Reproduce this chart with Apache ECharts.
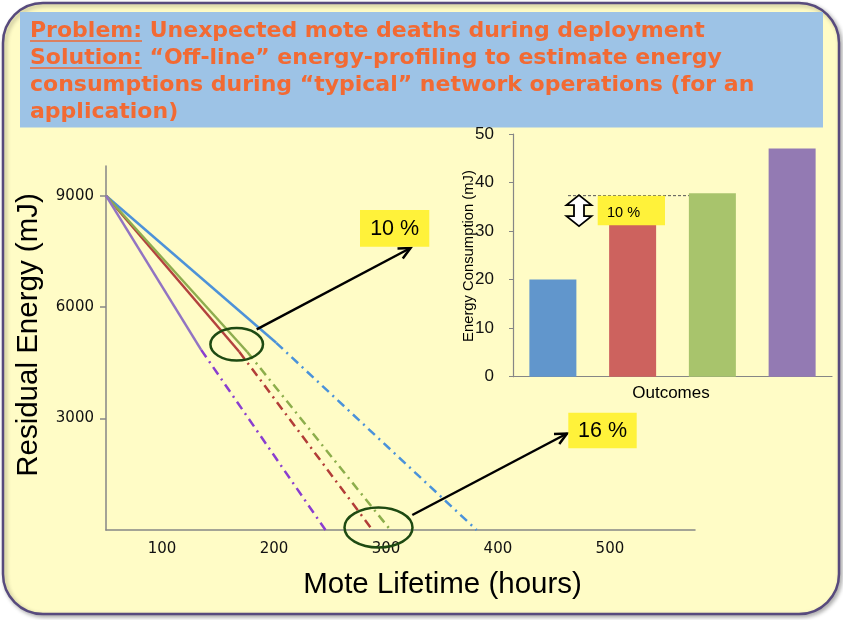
<!DOCTYPE html>
<html><head><meta charset="utf-8">
<script src="https://cdn.jsdelivr.net/npm/echarts@6/dist/echarts.min.js"></script>
<style>html,body{margin:0;padding:0;background:#fff}#c{width:843px;height:620px}</style>
</head><body><div id="c"></div>
<script>
// ---- data ----
const profiles = ['Profile A', 'Profile B', 'Profile C', 'Profile D'];
const startHours = 50;
const startEnergy = 9000;
const breakHours = [202, 169, 176, 135];
const breakEnergy = [5040, 4800, 4800, 4850];
const deathHours = [381, 288, 304, 246];
const lifetimeTicks = [100, 200, 300, 400, 500];
const energyTicks = [3000, 6000, 9000];
const outcomes = ['Outcome 1', 'Outcome 2', 'Outcome 3', 'Outcome 4'];
const consumption = [20, 34, 37.8, 47];
const gapLevel = 37.3;
const titleLines = [
  ['Problem:', ' Unexpected mote deaths during deployment'],
  ['Solution:', ' \u201cOff-line\u201d energy-profiling to estimate energy'],
  ['', 'consumptions during \u201ctypical\u201d network operations (for an'],
  ['', 'application)']
];

// ---- styles ----
const solidColors = ['#4D92D8', '#B3423E', '#8EAD4F', '#9274C2'];
const dashColors = ['#4A92DA', '#B23D38', '#8DAE4C', '#8A3ECF'];
const barColors = ['#6196CC', '#CD625E', '#A8C46C', '#937AB3'];
const axisGray = '#868686';
const orange = '#F26A33';

const chart = echarts.init(document.getElementById('c'), null, {renderer: 'canvas'});

const series = [];
profiles.forEach((p, i) => {
  series.push({
    type: 'line', name: p + ' measured', xAxisIndex: 0, yAxisIndex: 0,
    data: [[startHours, startEnergy], [breakHours[i], breakEnergy[i]]],
    showSymbol: false, silent: true, z: 3,
    lineStyle: {color: solidColors[i], width: 2.5}
  });
  series.push({
    type: 'line', name: p + ' projected', xAxisIndex: 0, yAxisIndex: 0,
    data: [[breakHours[i], breakEnergy[i]], [deathHours[i], 0]],
    showSymbol: false, silent: true, z: 3,
    lineStyle: {color: dashColors[i], width: 2.5, type: [9, 5, 2, 5]}
  });
});
series.push({
  type: 'bar', xAxisIndex: 1, yAxisIndex: 1, barWidth: 47, silent: true,
  data: consumption.map((v, i) => ({value: v, itemStyle: {color: barColors[i]}}))
});

const mcanvas = document.createElement('canvas').getContext('2d');
function textW(t, font) { mcanvas.font = font; return mcanvas.measureText(t).width; }

const titleFont = 'bold 22px "DejaVu Sans"';
const titleY = [31.5, 58.5, 85.5, 112];
const gfx = [];
gfx.push({type: 'rect', z: -10, shape: {x: 3, y: 3, width: 836, height: 611, r: 40},
  style: {fill: '#FFFCC6', stroke: '#574A7D', lineWidth: 2.5, shadowBlur: 4, shadowOffsetX: 2, shadowOffsetY: 2, shadowColor: 'rgba(0,0,0,0.3)'}});
gfx.push({type: 'rect', z: -9, shape: {x: 20, y: 12, width: 803, height: 115.5},
  style: {fill: '#9DC3E6'}});
titleLines.forEach((ln, k) => {
  const full = ln[0] + ln[1];
  gfx.push({type: 'text', z: 5, x: 30, y: titleY[k],
    style: {text: full, font: titleFont, fill: orange, verticalAlign: 'middle', align: 'left'}});
  if (ln[0]) {
    const w = textW(ln[0], titleFont);
    gfx.push({type: 'line', z: 5, shape: {x1: 30, y1: titleY[k] + 9.5, x2: 30 + w, y2: titleY[k] + 9.5},
      style: {stroke: orange, lineWidth: 1.5}});
  }
});
// axis titles
gfx.push({type: 'text', z: 5, x: 28.5, y: 335, rotation: Math.PI / 2,
  style: {text: 'Residual Energy (mJ)', font: '29.5px "Liberation Sans"', fill: '#000', align: 'center', verticalAlign: 'middle'}});
gfx.push({type: 'text', z: 5, x: 442.5, y: 585,
  style: {text: 'Mote Lifetime (hours)', font: '29.5px "Liberation Sans"', fill: '#000', align: 'center', verticalAlign: 'middle'}});
gfx.push({type: 'text', z: 5, x: 671, y: 393.5,
  style: {text: 'Outcomes', font: '17px "Liberation Sans"', fill: '#000', align: 'center', verticalAlign: 'middle'}});
gfx.push({type: 'text', z: 5, x: 469, y: 256, rotation: Math.PI / 2,
  style: {text: 'Energy Consumption (mJ)', font: '14.8px "Liberation Sans"', fill: '#000', align: 'center', verticalAlign: 'middle'}});

// ellipses
const ellStyle = {fill: 'none', stroke: '#1E4A12', lineWidth: 2.5};
gfx.push({type: 'ellipse', z: 10, shape: {cx: 236.7, cy: 344.3, rx: 26.3, ry: 16.2}, style: ellStyle});
gfx.push({type: 'ellipse', z: 10, shape: {cx: 378.5, cy: 527.5, rx: 34, ry: 20}, style: ellStyle});

function arrow(x1, y1, x2, y2) {
  const a = Math.atan2(y2 - y1, x2 - x1), L = 13, s = 0.45;
  gfx.push({type: 'line', z: 10, shape: {x1, y1, x2, y2}, style: {stroke: '#000', lineWidth: 2.5}});
  gfx.push({type: 'polyline', z: 10, shape: {points: [
    [x2 - L * Math.cos(a - s), y2 - L * Math.sin(a - s)], [x2, y2],
    [x2 - L * Math.cos(a + s), y2 - L * Math.sin(a + s)]]},
    style: {stroke: '#000', lineWidth: 2.5, fill: 'none'}});
}
arrow(256.7, 329.3, 410.5, 248);
arrow(412.3, 515, 567, 433.5);

function tag(x, y, w, h, t, size) {
  gfx.push({type: 'rect', z: 11, shape: {x, y, width: w, height: h}, style: {fill: '#FFF23A'}});
  gfx.push({type: 'text', z: 12, x: x + w / 2, y: y + h / 2 + 1,
    style: {text: t, font: size + 'px "Liberation Sans"', fill: '#000', align: 'center', verticalAlign: 'middle'}});
}
tag(360, 210, 69.3, 36.7, '10 %', 21.5);
tag(568.3, 412.7, 68.4, 35.6, '16 %', 21.5);

const plain = v => String(v);

chart.setOption({
  animation: false,
  backgroundColor: '#ffffff',
  grid: [
    {left: 106, top: 166, width: 589, height: 364},
    {left: 513, top: 134, width: 319, height: 242.7}
  ],
  xAxis: [
    {gridIndex: 0, type: 'value', min: 50, max: 576,
      axisLine: {show: true, onZero: false, lineStyle: {color: axisGray, width: 1.5}},
      axisTick: {show: false}, splitLine: {show: false},
      axisLabel: {customValues: lifetimeTicks, formatter: plain, fontFamily: 'DejaVu Sans', fontSize: 15, color: '#111', margin: 12}},
    {gridIndex: 1, type: 'category', data: outcomes,
      axisLine: {show: true, lineStyle: {color: axisGray, width: 1.2}},
      axisTick: {show: false}, axisLabel: {show: false}}
  ],
  yAxis: [
    {gridIndex: 0, type: 'value', min: 0, max: 9800,
      axisLine: {show: true, lineStyle: {color: axisGray, width: 1.5}},
      axisTick: {show: true, customValues: energyTicks, length: 6, lineStyle: {color: axisGray, width: 1.5}},
      splitLine: {show: false},
      axisLabel: {customValues: energyTicks, formatter: plain, fontFamily: 'DejaVu Sans', fontSize: 15, color: '#111', margin: 12}},
    {gridIndex: 1, type: 'value', min: 0, max: 50, interval: 10,
      axisLine: {show: true, lineStyle: {color: axisGray, width: 1.2}},
      axisTick: {show: true, length: 4, lineStyle: {color: axisGray}},
      splitLine: {show: false},
      axisLabel: {formatter: plain, fontFamily: 'Liberation Sans', fontSize: 17, color: '#111', margin: 19}}
  ],
  series: series
});

// inset annotations tied to the bar axis
const yGap = chart.convertToPixel({yAxisIndex: 1}, gapLevel);
const greenLeft = chart.convertToPixel({xAxisIndex: 1}, outcomes[2]) - 23.5;
gfx.push({type: 'line', z: 11, shape: {x1: 568, y1: yGap, x2: greenLeft, y2: yGap},
  style: {stroke: '#555', lineWidth: 1, lineDash: [3, 2]}});
gfx.push({type: 'rect', z: 11, shape: {x: 597.7, y: yGap, width: 67.3, height: 29.5}, style: {fill: '#FFF23A'}});
gfx.push({type: 'text', z: 12, x: 607, y: yGap + 17,
  style: {text: '10 %', font: '14.5px "Liberation Sans"', fill: '#000', align: 'left', verticalAlign: 'middle'}});
const cx = 579, t = yGap - 0.5, b = yGap + 30.5;
gfx.push({type: 'polygon', z: 12, shape: {points: [
  [cx, t], [cx + 12.5, t + 10], [cx + 5, t + 10], [cx + 5, b - 10], [cx + 12.5, b - 10], [cx, b],
  [cx - 12.5, b - 10], [cx - 5, b - 10], [cx - 5, t + 10], [cx - 12.5, t + 10]]},
  style: {fill: '#fff', stroke: '#000', lineWidth: 1.8}});

chart.setOption({graphic: {elements: gfx}});
</script></body></html>
